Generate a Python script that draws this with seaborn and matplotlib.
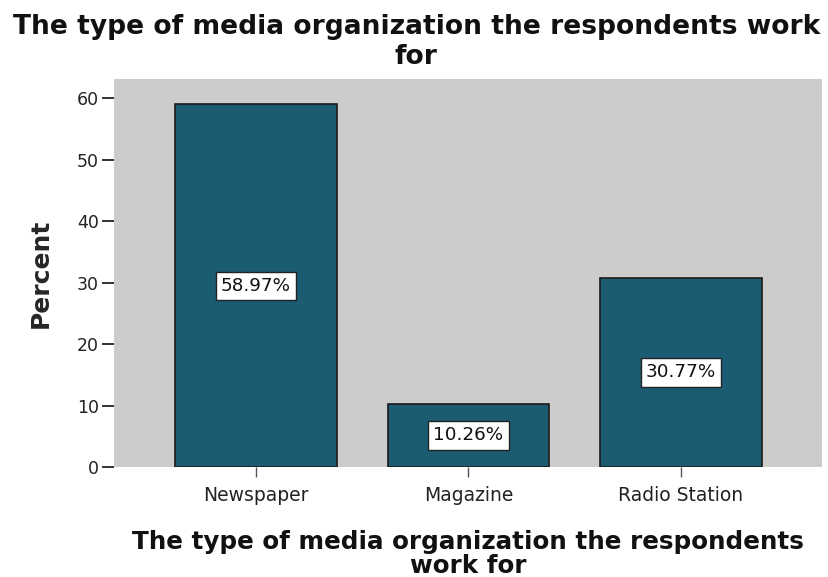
import matplotlib
matplotlib.use("Agg")
import matplotlib.pyplot as plt
import seaborn as sns
import pandas as pd

categories = ["Newspaper", "Magazine", "Radio Station"]
percents = [58.97, 10.26, 30.77]
value_labels = ["58.97%", "10.26%", "30.77%"]
y_ticks = [0, 10, 20, 30, 40, 50, 60]

sns.set_style("white")
plt.rcParams["font.family"] = ["DejaVu Sans"]

df = pd.DataFrame({"category": categories, "percent": percents})

fig = plt.figure(figsize=(8.29, 5.77), dpi=100)
ax = fig.add_axes([0.1375, 0.1906, 0.8541, 0.6724])
ax.set_facecolor("#cccccc")

sns.barplot(data=df, x="category", y="percent", order=categories,
            color="#1c5c73", saturation=1, width=0.76,
            edgecolor="#1a1a1a", linewidth=1.2, ax=ax)

for i, (v, lab) in enumerate(zip(percents, value_labels)):
    ax.text(i, v / 2, lab, ha="center", va="center", fontsize=13.2,
            color="#111111",
            bbox=dict(boxstyle="square,pad=0.28", facecolor="white",
                      edgecolor="#222222", linewidth=1))

ax.set_xlim(-0.668, 2.664)
ax.set_ylim(0, 63.1)
ax.set_yticks(y_ticks)
ax.tick_params(axis="y", left=True, direction="out", length=9, width=1.3,
               colors="#222222", labelsize=12.5, pad=2)
ax.tick_params(axis="x", bottom=True, direction="out", length=7, width=1,
               colors="#555555", labelsize=13.5, pad=7)
for lbl in ax.get_xticklabels() + ax.get_yticklabels():
    lbl.set_color("#222222")
for s in ax.spines.values():
    s.set_visible(False)

ax.set_ylabel("Percent", fontsize=18, fontweight="bold", labelpad=17)
ax.set_xlabel("The type of media organization the respondents\nwork for",
              fontsize=17.7, fontweight="bold", labelpad=18, linespacing=1.0,
              color="#111111")
fig.text(0.502, 1 - 14 / 577,
         "The type of media organization the respondents work\nfor",
         ha="center", va="top", fontsize=19.1, fontweight="bold",
         linespacing=1.2, color="#111111")

fig.savefig("out.png", dpi=100)
